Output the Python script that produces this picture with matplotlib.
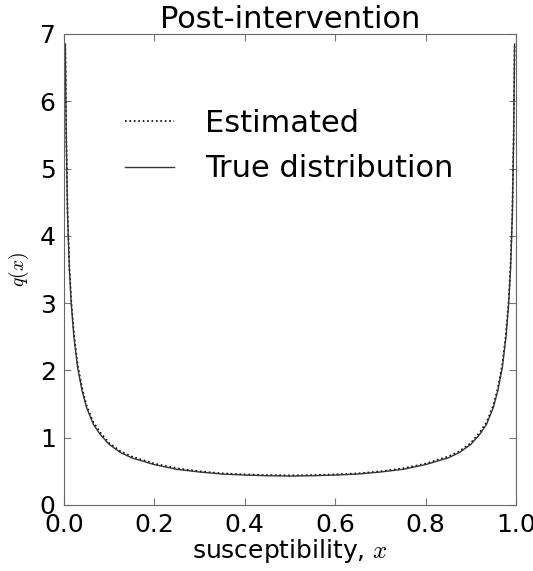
import matplotlib
matplotlib.use("Agg")
import matplotlib.pyplot as plt

plt.rcParams['mathtext.fontset'] = 'cm'

# susceptibility grid (left half; right half mirrored from the picture)
x_left = [0.003, 0.005, 0.008, 0.012, 0.016, 0.022, 0.03, 0.04, 0.05, 0.065,
          0.08, 0.1, 0.125, 0.15, 0.2, 0.25, 0.3, 0.35, 0.4, 0.45, 0.5]
true_left = [6.85, 5.5, 4.3, 3.5, 3.0, 2.5, 2.05, 1.7, 1.45, 1.2,
             1.05, 0.9, 0.78, 0.7, 0.6, 0.53, 0.49, 0.46, 0.445, 0.435, 0.43]
est_left = [6.85, 5.55, 4.35, 3.55, 3.05, 2.55, 2.1, 1.74, 1.48, 1.23,
            1.08, 0.92, 0.8, 0.72, 0.615, 0.545, 0.5, 0.47, 0.455, 0.445, 0.44]

x_right = [1 - v for v in reversed(x_left[:-1])]
x_vals = x_left + x_right
true_vals = true_left + list(reversed(true_left[:-1]))
est_vals = est_left + list(reversed(est_left[:-1]))

fig = plt.figure(figsize=(5.33, 5.71), dpi=100)
ax = fig.add_axes([0.12, 0.1156, 0.848, 0.825])

ax.plot(x_vals, est_vals, linestyle=':', color='black', lw=1.2, label='Estimated')
ax.plot(x_vals, true_vals, linestyle='-', color='#333333', lw=1.0, label='True distribution')

ax.set_xlim(0, 1)
ax.set_ylim(0, 7)
ax.set_xticks([0.0, 0.2, 0.4, 0.6, 0.8, 1.0])
ax.set_xticklabels(['0.0', '0.2', '0.4', '0.6', '0.8', '1.0'])
ax.set_yticks(range(8))
ax.tick_params(direction='in', top=True, right=True, labelsize=18, length=5,
               color='#777777', pad=6)
for s in ax.spines.values():
    s.set_color('#666666')

ax.set_title('Post-intervention', fontsize=22, pad=4)
ax.set_xlabel('susceptibility, $x$', fontsize=18, labelpad=0)
ax.set_ylabel('$q(x)$', fontsize=14, labelpad=6)

ax.legend(loc='upper left', bbox_to_anchor=(0.075, 0.90), frameon=False,
          fontsize=22, handlelength=1.6, handletextpad=1.0, labelspacing=0.55)

fig.savefig('out.png', dpi=100)
